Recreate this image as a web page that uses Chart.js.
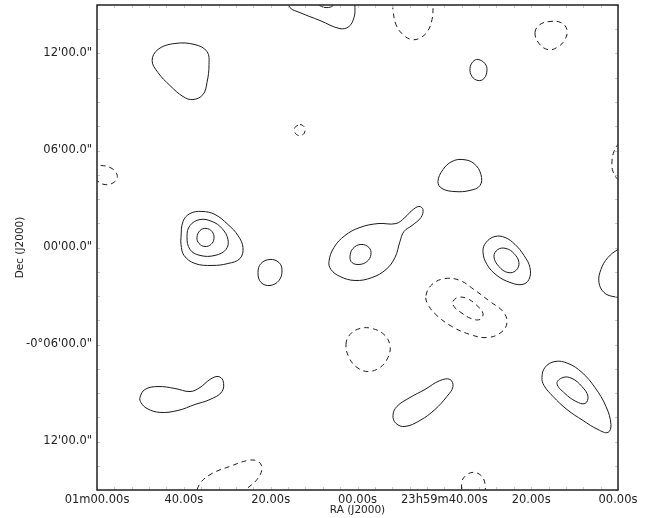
<!DOCTYPE html>
<html>
<head>
<meta charset="utf-8">
<script src="https://cdn.jsdelivr.net/npm/chart.js@4.4.0/dist/chart.umd.min.js"></script>
<style>
  html, body { margin: 0; padding: 0; background: #fff; }
  #wrap { width: 654px; height: 518px; }
</style>
</head>
<body>
<div id="wrap"><canvas id="myChart" width="654" height="518"></canvas></div>
<script>
// x = RA seconds from 00h01m00s going west (0..120), y = Dec offset in arcmin
const raTicks = [0, 20, 40, 60, 80, 100, 120];
const raLabels = ["01m00.00s", "40.00s", "20.00s", "00.00s", "23h59m40.00s", "20.00s", "00.00s"];
const decTicks = [-12, -6, 0, 6, 12];
const decLabels = ["12'00.0\"", "-0\u00b006'00.0\"", "00'00.0\"", "06'00.0\"", "12'00.0\""];

// positive contours (solid)
const blobTopLeft = [[12.7,11.56],[14.05,12.25],[17.96,12.62],[22.57,12.55],[25.33,12.12],[25.8,11.32],[25.33,10.2],[24.41,9.46],[22.11,9.15],[19.81,9.34],[16.81,10.02],[14.05,10.82]];
const blobTopMid = [[43.3,15.6],[44.45,14.84],[46.75,14.53],[51.36,14.04],[55.96,13.54],[58.04,13.67],[59.19,14.22],[59.42,14.84],[59.19,15.6]];
const blobTopMidInner = [[50.44,15.3],[51.36,14.96],[52.97,14.84],[54.35,14.96],[55.04,15.3]];
const ovalTopRight = [[87.75,11.63],[89.36,11.38],[89.82,10.95],[89.13,10.45],[87.75,10.33],[86.37,10.58],[85.91,11.07],[86.6,11.5]];
const blobMidRight = [[78.53,4.08],[79.69,4.82],[81.76,5.32],[84.29,5.44],[86.83,5.19],[88.44,4.51],[88.21,3.83],[85.91,3.53],[82.45,3.46],[79.46,3.65]];
const srcLeftOuter = [[19.35,0.62],[19.81,1.61],[21.42,2.1],[24.18,2.23],[27.18,2.04],[30.17,1.42],[32.47,0.74],[33.62,0],[32.93,-0.68],[30.17,-0.99],[26.49,-1.11],[22.57,-0.99],[20.04,-0.49],[19.35,0.19]];
const srcLeftMid = [[20.73,0.68],[21.42,1.36],[23.72,1.73],[26.49,1.61],[28.79,1.18],[30.17,0.49],[29.71,-0.12],[27.18,-0.49],[23.72,-0.49],[21.42,-0.12]];
const srcLeftInner = [[23.03,0.62],[23.72,1.05],[25.1,1.18],[26.49,0.99],[26.95,0.56],[26.26,0.19],[24.87,0.06],[23.49,0.25]];
const srcSmall = [[37.08,-1.55],[37.77,-0.99],[39.84,-0.74],[41.92,-0.93],[42.61,-1.42],[41.92,-2.04],[39.84,-2.35],[37.77,-2.16]];
const srcTearOuter = [[53.43,-0.87],[54.58,0],[57.11,0.74],[60.57,1.24],[64.72,1.48],[68.86,1.48],[70.93,1.86],[72.55,2.29],[74.16,2.54],[75.08,2.35],[74.62,1.86],[72.55,1.36],[70.7,0.99],[69.78,0.37],[68.63,-0.62],[66.56,-1.36],[63.33,-1.86],[59.42,-2.04],[55.96,-1.79],[53.89,-1.36]];
const srcTearInner = [[58.27,-0.56],[58.96,-0.06],[60.8,0.19],[62.64,0],[63.1,-0.43],[62.18,-0.87],[60.34,-1.05],[58.73,-0.93]];
const srcEastOuter = [[88.9,-0.25],[89.59,0.31],[91.66,0.68],[93.97,0.62],[96.27,0.19],[98.34,-0.49],[99.72,-1.24],[99.49,-1.98],[97.88,-2.29],[95.12,-2.16],[92.12,-1.73],[89.82,-1.05]];
const srcEastInner = [[91.43,-0.56],[92.35,-0.12],[94.2,-0.06],[96.04,-0.37],[97.19,-0.93],[96.5,-1.42],[94.66,-1.55],[92.58,-1.18]];
const srcEdgeRight = [[122.5,0.2],[120,-0.12],[117.69,-0.62],[116.07,-1.36],[115.61,-2.16],[116.77,-2.78],[118.84,-3.03],[122.5,-3.1]];
const blobLowLeft = [[9.9,-9.28],[11.05,-8.78],[14.05,-8.6],[17.96,-8.72],[21.42,-8.91],[23.72,-8.66],[26.03,-8.16],[27.87,-7.98],[29.02,-8.23],[28.79,-8.91],[26.03,-9.4],[22.57,-9.71],[18.65,-10.08],[14.51,-10.2],[11.52,-9.96],[10.13,-9.59]];
const blobLowMid = [[68.17,-10.39],[69.09,-9.83],[72.09,-9.28],[75.54,-8.78],[78.99,-8.23],[81.3,-8.16],[81.99,-8.6],[80.61,-9.21],[77.84,-10.02],[74.39,-10.7],[70.93,-11.07],[68.86,-10.88]];
const srcLowRightOuter = [[102.49,-8.04],[103.18,-7.42],[105.48,-7.05],[108.48,-7.17],[111.7,-7.73],[114.69,-8.66],[117.23,-9.83],[118.38,-10.95],[117.69,-11.44],[115.38,-11.26],[111.93,-10.7],[108.24,-10.02],[105.02,-9.21],[102.95,-8.53]];
const srcLowRightInner = [[105.94,-8.41],[107.32,-8.04],[109.4,-8.1],[111.7,-8.6],[113.08,-9.21],[112.39,-9.65],[110.32,-9.52],[107.78,-9.03]];

// negative contours (dashed)
const negTopMid = [[67.94,15.6],[68.17,14.72],[68.86,13.79],[70.47,13.17],[72.55,12.86],[74.62,12.99],[76.24,13.42],[77.16,14.1],[77.39,14.84],[77.16,15.6]];
const negTiny = [[46.75,7.6],[47.67,7.48],[47.9,7.23],[47.44,6.98],[46.52,6.92],[45.6,7.1],[45.6,7.42]];
const negTopRight = [[100.88,13.3],[102.03,13.79],[104.33,13.98],[106.86,13.91],[108.24,13.48],[107.78,12.86],[105.94,12.37],[103.87,12.24],[101.8,12.62]];
const negEdgeRight = [[122,6.8],[120,6.37],[119.07,5.94],[118.61,5.32],[118.84,4.7],[120,4.21],[122,3.9]];
const negEdgeLeft = [[-1.15,4.95],[0.69,5.07],[2.99,4.95],[4.38,4.64],[4.61,4.27],[3.45,3.96],[1.61,3.9],[0,4.14],[-1.15,4.45]];
const negMidOuter = [[75.77,-2.97],[77.15,-2.29],[80.15,-1.92],[83.6,-2.04],[86.83,-2.6],[90.51,-3.34],[93.51,-3.96],[94.43,-4.64],[93.05,-5.26],[89.82,-5.57],[85.91,-5.38],[81.76,-4.89],[78.3,-4.21],[76.23,-3.53]];
const negMidInner = [[81.99,-3.34],[83.14,-3.09],[85.21,-3.15],[87.52,-3.59],[88.9,-4.08],[88.21,-4.45],[86.14,-4.39],[83.83,-4.02],[82.22,-3.65]];
const negCircle = [[57.35,-6.0],[58.27,-5.38],[60.57,-5.01],[63.33,-5.01],[66.1,-5.38],[67.48,-6.06],[67.02,-6.8],[65.18,-7.42],[62.41,-7.67],[59.88,-7.42],[58.04,-6.8]];
const negLowLeft = [[22.57,-15.5],[23.72,-14.6],[26.49,-13.98],[30.63,-13.54],[34.78,-13.17],[37.08,-13.23],[38.0,-13.67],[36.85,-14.35],[34.32,-14.97],[32.47,-15.5]];
const negLowMid = [[84.06,-15.5],[84.06,-14.47],[84.98,-14.1],[86.6,-13.91],[88.44,-14.1],[89.36,-14.6],[89.36,-15.5]];

const closedPos = [blobTopLeft, ovalTopRight, blobMidRight, srcLeftOuter, srcLeftMid, srcLeftInner, srcSmall, srcTearOuter, srcTearInner, srcEastOuter, srcEastInner, blobLowLeft, blobLowMid, srcLowRightOuter, srcLowRightInner];
const openPos = [blobTopMid, blobTopMidInner, srcEdgeRight];
const closedNeg = [negTiny, negTopRight, negEdgeLeft, negMidOuter, negMidInner, negCircle];
const openNeg = [negTopMid, negEdgeRight, negLowLeft, negLowMid];

function toPts(arr, closed) {
    let src = arr;
    if (closed) {
        // wrap one point on each side so the spline is smooth where the loop closes;
        // the two wrap segments are hidden below
        src = [arr[arr.length - 1]].concat(arr, [arr[0], arr[1]]);
    }
    return src.map(function (e) { return { x: e[0], y: e[1] } });
}

function ds(arr, closed, dashed) {
    const n = closed ? arr.length + 3 : arr.length;
    return {
        data: toPts(arr, closed),
        showLine: true,
        pointRadius: 0,
        borderColor: '#1a1a1a',
        borderWidth: 1,
        tension: 0.4,
        borderDash: dashed ? [5, 4] : [],
        fill: false,
        segment: {
            borderColor: function (c) {
                if (closed && (c.p0DataIndex === 0 || c.p1DataIndex === n - 1)) return 'rgba(0,0,0,0)';
                return undefined;
            }
        }
    };
}

let datasets = [];
closedPos.forEach(function (c) { datasets.push(ds(c, true, false)) });
openPos.forEach(function (c) { datasets.push(ds(c, false, false)) });
closedNeg.forEach(function (c) { datasets.push(ds(c, true, true)) });
openNeg.forEach(function (c) { datasets.push(ds(c, false, true)) });

// frame + small inward minor ticks
const framePlugin = {
    id: 'frame',
    afterDatasetsDraw(chart) {
        const ctx = chart.ctx;
        const a = chart.chartArea;
        const xs = chart.scales.x, ys = chart.scales.y;
        ctx.save();
        ctx.strokeStyle = '#c8c8c8';
        ctx.lineWidth = 1;
        ctx.beginPath();
        for (let v = 0; v <= 120; v += 4) {
            const px = Math.round(xs.getPixelForValue(v)) + 0.5;
            ctx.moveTo(px, a.bottom); ctx.lineTo(px, a.bottom - 3);
            ctx.moveTo(px, a.top); ctx.lineTo(px, a.top + 3);
        }
        for (let v = -15; v <= 15; v += 1.5) {
            const py = Math.round(ys.getPixelForValue(v)) + 0.5;
            ctx.moveTo(a.left, py); ctx.lineTo(a.left + 3, py);
            ctx.moveTo(a.right, py); ctx.lineTo(a.right - 3, py);
        }
        ctx.stroke();
        ctx.strokeStyle = '#222';
        ctx.lineWidth = 1.5;
        ctx.strokeRect(a.left, a.top, a.right - a.left, a.bottom - a.top);
        ctx.restore();
    }
};

const config = {
    type: 'scatter',
    data: { datasets: datasets },
    options: {
        responsive: false,
        animation: false,
        layout: { padding: { top: 5, right: 36, left: 0, bottom: 0 } },
        plugins: { legend: { display: false }, tooltip: { enabled: false } },
        scales: {
            x: {
                type: 'linear',
                min: 0, max: 120,
                grid: { display: false, drawTicks: false },
                border: { display: false },
                afterBuildTicks: function (s) { s.ticks = raTicks.map(function (v) { return { value: v } }) },
                afterFit: function (s) { s.height = 28; s.paddingLeft = 0; s.paddingRight = 0 },
                ticks: {
                    padding: 3,
                    maxRotation: 0,
                    autoSkip: false,
                    color: '#222',
                    font: { family: 'DejaVu Sans', size: 11.5 },
                    callback: function (v) { return raLabels[raTicks.indexOf(v)] }
                },
                title: {
                    display: true, text: 'RA (J2000)', color: '#222',
                    font: { family: 'DejaVu Sans', size: 10.5 },
                    padding: { top: 0, bottom: 1 }
                }
            },
            y: {
                type: 'linear',
                min: -15, max: 15,
                grid: { display: false, drawTicks: false },
                border: { display: false },
                afterBuildTicks: function (s) { s.ticks = decTicks.map(function (v) { return { value: v } }) },
                afterFit: function (s) { s.width = 97; s.paddingTop = 0; s.paddingBottom = 0 },
                ticks: {
                    padding: 5,
                    autoSkip: false,
                    color: '#222',
                    font: { family: 'DejaVu Sans', size: 11.5 },
                    callback: function (v) { return decLabels[decTicks.indexOf(v)] }
                },
                title: {
                    display: true, text: 'Dec (J2000)', color: '#222',
                    font: { family: 'DejaVu Sans', size: 10.5 },
                    padding: { top: 14, bottom: 0 }
                }
            }
        }
    },
    plugins: [framePlugin]
};

var chart = new Chart("myChart", config);
</script>
</body>
</html>
